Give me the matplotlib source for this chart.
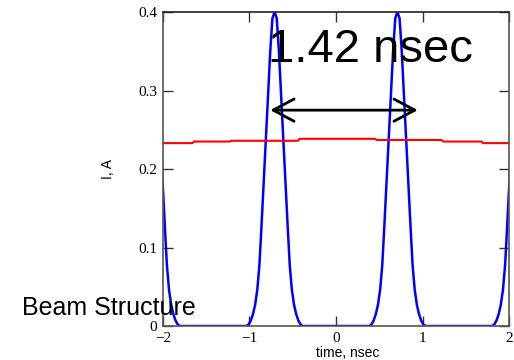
#!/usr/bin/env python
# -*- coding: utf-8 -*-

import matplotlib
matplotlib.use('Agg')
import matplotlib.pyplot as plt
from matplotlib.patches import ArrowStyle

# beam current (pulses every 1.42 ns)
t_beam = [-2.13, -2.105, -2.08, -2.055, -2.03, -2.005, -1.98, -1.955, -1.93,
          -1.905, -1.88, -1.855, -1.83, -1.805,
          -1.035, -1.01, -0.985, -0.96, -0.935, -0.91, -0.885, -0.86, -0.835,
          -0.81, -0.785, -0.76, -0.735, -0.71, -0.685, -0.66, -0.635, -0.61,
          -0.585, -0.56, -0.535, -0.51, -0.485, -0.46, -0.435, -0.41, -0.385,
          0.385, 0.41, 0.435, 0.46, 0.485, 0.51, 0.535, 0.56, 0.585, 0.61,
          0.635, 0.66, 0.685, 0.71, 0.735, 0.76, 0.785, 0.81, 0.835, 0.86,
          0.885, 0.91, 0.935, 0.96, 0.985, 1.01, 1.035,
          1.805, 1.83, 1.855, 1.88, 1.905, 1.93, 1.955, 1.98, 2.005, 2.03,
          2.055, 2.08, 2.105, 2.13]
i_beam = [0.400, 0.392, 0.350, 0.295, 0.240, 0.185, 0.130, 0.078, 0.046,
          0.027, 0.015, 0.007, 0.002, 0.0,
          0.0, 0.002, 0.007, 0.015, 0.027, 0.046, 0.078, 0.130, 0.185,
          0.240, 0.295, 0.350, 0.392, 0.400, 0.392, 0.350, 0.295, 0.240,
          0.185, 0.130, 0.078, 0.046, 0.027, 0.015, 0.007, 0.002, 0.0,
          0.0, 0.002, 0.007, 0.015, 0.027, 0.046, 0.078, 0.130, 0.185, 0.240,
          0.295, 0.350, 0.392, 0.400, 0.392, 0.350, 0.295, 0.240, 0.185, 0.130,
          0.078, 0.046, 0.027, 0.015, 0.007, 0.002, 0.0,
          0.0, 0.002, 0.007, 0.015, 0.027, 0.046, 0.078, 0.130, 0.185, 0.240,
          0.295, 0.350, 0.392, 0.400]

# average current (red)
t_avg = [-2.0, -1.66, -1.64, -1.23, -1.21, -0.44, -0.42, 0.45, 0.47, 1.22,
         1.24, 1.68, 1.70, 2.0]
i_avg = [0.233, 0.233, 0.235, 0.235, 0.236, 0.236, 0.2385, 0.2385, 0.237,
         0.237, 0.235, 0.235, 0.233, 0.233]

xticks = [-2, -1, 0, 1, 2]
yticks = [0, 0.1, 0.2, 0.3, 0.4]
yticklabels = ['0', '0.1', '0.2', '0.3', '0.4']

spacing_label = '1.42 nsec'
arrow_x = [-0.76, 0.945]
arrow_y = 0.275

fig = plt.figure(figsize=(5.14, 3.6), dpi=100)
ax = fig.add_axes([0.3171, 0.0944, 0.6732, 0.8722])

ax.plot(t_beam, i_beam, color='#0000ff', lw=1.8, clip_on=True)
ax.plot(t_avg, i_avg, color='#ff0000', lw=1.5)

ax.set_xlim(-2, 2)
ax.set_ylim(0, 0.4)
ax.set_xticks(xticks)
ax.set_xticklabels([str(x).replace('-', '\u2212') for x in xticks])
ax.set_yticks(yticks)
ax.set_yticklabels(yticklabels)
ax.tick_params(direction='in', length=7.5, width=1.0, color='#333333',
               top=True, right=True, labelsize=11, pad=4)
for lab in ax.get_xticklabels() + ax.get_yticklabels():
    lab.set_family('Liberation Serif')
for side in ['left', 'right', 'bottom']:
    ax.spines[side].set_color('#555555')
    ax.spines[side].set_linewidth(1.2)
ax.spines['top'].set_color('#222222')
ax.spines['top'].set_linewidth(1.2)

ax.set_xlabel('time, nsec', family='Liberation Sans', fontsize=10)
ax.xaxis.set_label_coords(0.535, -0.064)
ax.set_ylabel('I, A', family='Liberation Sans', fontsize=10)
ax.yaxis.set_label_coords(-0.14, 0.5)

ax.annotate('', xy=(arrow_x[0], arrow_y), xytext=(arrow_x[1], arrow_y),
            arrowprops=dict(arrowstyle=ArrowStyle('<->', head_length=1.5,
                                                  head_width=0.8),
                            mutation_scale=10, lw=2.0, color='black',
                            shrinkA=0, shrinkB=0))

fig.text(0.521, 0.828, spacing_label, family='Liberation Sans', fontsize=34,
         va='baseline', ha='left')
fig.text(0.043, 0.125, 'Beam Structure', family='Liberation Sans',
         fontsize=18, va='baseline', ha='left')

fig.savefig('out.png', dpi=100)
